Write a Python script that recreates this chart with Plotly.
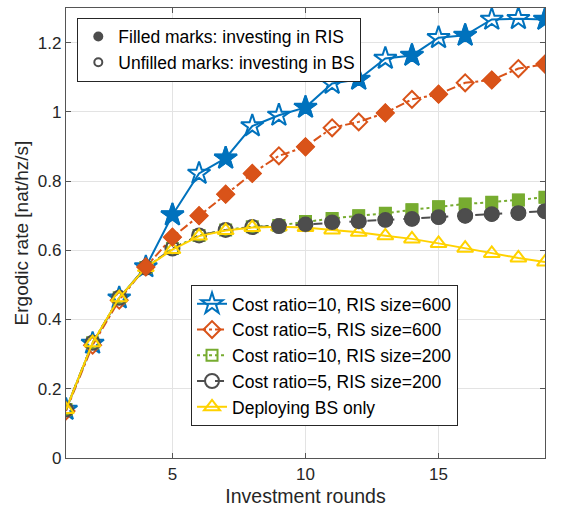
import plotly.graph_objects as go

rounds = list(range(1, 20))

blue_vals = [0.140, 0.331, 0.462, 0.552, 0.702, 0.822, 0.866, 0.959, 0.990, 1.013,
             1.082, 1.094, 1.154, 1.163, 1.214, 1.221, 1.267, 1.269, 1.267]
blue_fill = [0, 0, 0, 0, 1, 0, 1, 0, 0, 1, 0, 1, 0, 1, 0, 1, 0, 0, 1]

orange_vals = [0.136, 0.326, 0.456, 0.552, 0.638, 0.700, 0.762, 0.822, 0.873, 0.899,
               0.954, 0.971, 0.997, 1.036, 1.051, 1.084, 1.092, 1.125, 1.138]
orange_fill = [0, 0, 0, 1, 1, 1, 1, 1, 0, 1, 0, 0, 1, 0, 1, 0, 1, 0, 1]

green_vals = [0.140, 0.333, 0.463, 0.550, 0.605, 0.643, 0.659, 0.668, 0.672, 0.683,
              0.692, 0.700, 0.707, 0.717, 0.726, 0.734, 0.739, 0.745, 0.753]
green_fill = [0, 0, 0, 0, 0, 0, 0, 0, 1, 1, 1, 1, 1, 1, 1, 1, 1, 1, 1]

grey_vals = [0.140, 0.333, 0.463, 0.550, 0.605, 0.643, 0.659, 0.667, 0.670, 0.675,
             0.681, 0.684, 0.688, 0.691, 0.696, 0.700, 0.705, 0.708, 0.713]
grey_fill = [0, 0, 0, 0, 0, 0, 0, 0, 1, 1, 1, 1, 1, 1, 1, 1, 1, 1, 1]

yellow_vals = [0.140, 0.333, 0.463, 0.550, 0.602, 0.641, 0.657, 0.666, 0.668, 0.666,
               0.659, 0.652, 0.642, 0.633, 0.620, 0.606, 0.591, 0.578, 0.566]
yellow_fill = [0] * 19

series = [
    ("Cost ratio=10, RIS size=600", blue_vals, blue_fill, "#0072BD", "solid", "star", 17),
    ("Cost ratio=5, RIS size=600", orange_vals, orange_fill, "#D95319", "dashdot", "diamond", 13),
    ("Cost ratio=10, RIS size=200", green_vals, green_fill, "#77AC30", "dot", "square", 11),
    ("Cost ratio=5, RIS size=200", grey_vals, grey_fill, "#4D4D4D", "dash", "circle", 14),
    ("Deploying BS only", yellow_vals, yellow_fill, "#FFD200", "solid", "triangle-up", 14),
]

FONT = "Liberation Sans, Arial, sans-serif"
fig = go.Figure()

for name, vals, fill, color, dash, sym, size in series:
    fig.add_trace(go.Scatter(
        x=rounds, y=vals, name=name, mode="lines+markers",
        line=dict(color=color, width=2, dash=dash),
        marker=dict(symbol=[sym if f else sym + "-open" for f in fill],
                    size=size, color=color, line=dict(color=color, width=2)),
        legend="legend2",
    ))

# filled marks drawn on top
for name, vals, fill, color, dash, sym, size in series:
    xs = [x for x, f in zip(rounds, fill) if f]
    ys = [v for v, f in zip(vals, fill) if f]
    if xs:
        fig.add_trace(go.Scatter(
            x=xs, y=ys, mode="markers", showlegend=False,
            marker=dict(symbol=sym, size=size, color=color, line=dict(color=color, width=1.5)),
        ))

fig.add_trace(go.Scatter(x=[None], y=[None], mode="markers",
                         name="Filled marks: investing in RIS",
                         marker=dict(symbol="circle", size=10, color="#4D4D4D"),
                         legend="legend"))
fig.add_trace(go.Scatter(x=[None], y=[None], mode="markers",
                         name="Unfilled marks: investing in BS",
                         marker=dict(symbol="circle-open", size=8, color="#4D4D4D",
                                     line=dict(width=2, color="#4D4D4D")),
                         legend="legend"))

axis_common = dict(
    showline=True, linecolor="#555555", linewidth=1.2, mirror="allticks",
    ticks="inside", ticklen=5, tickcolor="#555555", tickwidth=1,
    showgrid=True, gridcolor="#E3E3E3", gridwidth=1, zeroline=False,
    tickfont=dict(family=FONT, size=17, color="#262626"),
)

fig.update_layout(
    width=564, height=510,
    margin=dict(l=66, r=19, t=7, b=51),
    paper_bgcolor="white", plot_bgcolor="white",
    font=dict(family=FONT, size=17, color="#262626"),
    xaxis=dict(range=[1, 19], tickvals=[5, 10, 15],
               title=dict(text="Investment rounds", font=dict(family=FONT, size=19.5, color="#262626"),
                          standoff=6),
               **axis_common),
    yaxis=dict(range=[0, 1.3], tickvals=[0, 0.2, 0.4, 0.6, 0.8, 1.0, 1.2],
               ticktext=["0", "0.2", "0.4", "0.6", "0.8", "1", "1.2"],
               title=dict(text="Ergodic rate [nat/hz/s]", font=dict(family=FONT, size=19, color="#262626"),
                          standoff=4),
               **axis_common),
    legend=dict(x=0.0236, y=0.9075, xanchor="left", yanchor="middle",
                bgcolor="white", bordercolor="#262626", borderwidth=1,
                font=dict(family=FONT, size=17.5, color="#000000"),
                tracegroupgap=0, itemsizing="trace"),
    legend2=dict(x=0.261, y=0.228, xanchor="left", yanchor="middle",
                 bgcolor="white", bordercolor="#262626", borderwidth=1,
                 font=dict(family=FONT, size=17.5, color="#000000"),
                 tracegroupgap=0, itemsizing="trace"),
    showlegend=True,
)

fig.write_html("out.html", config={"displayModeBar": False},
               post_script="document.body.style.margin='0';")
